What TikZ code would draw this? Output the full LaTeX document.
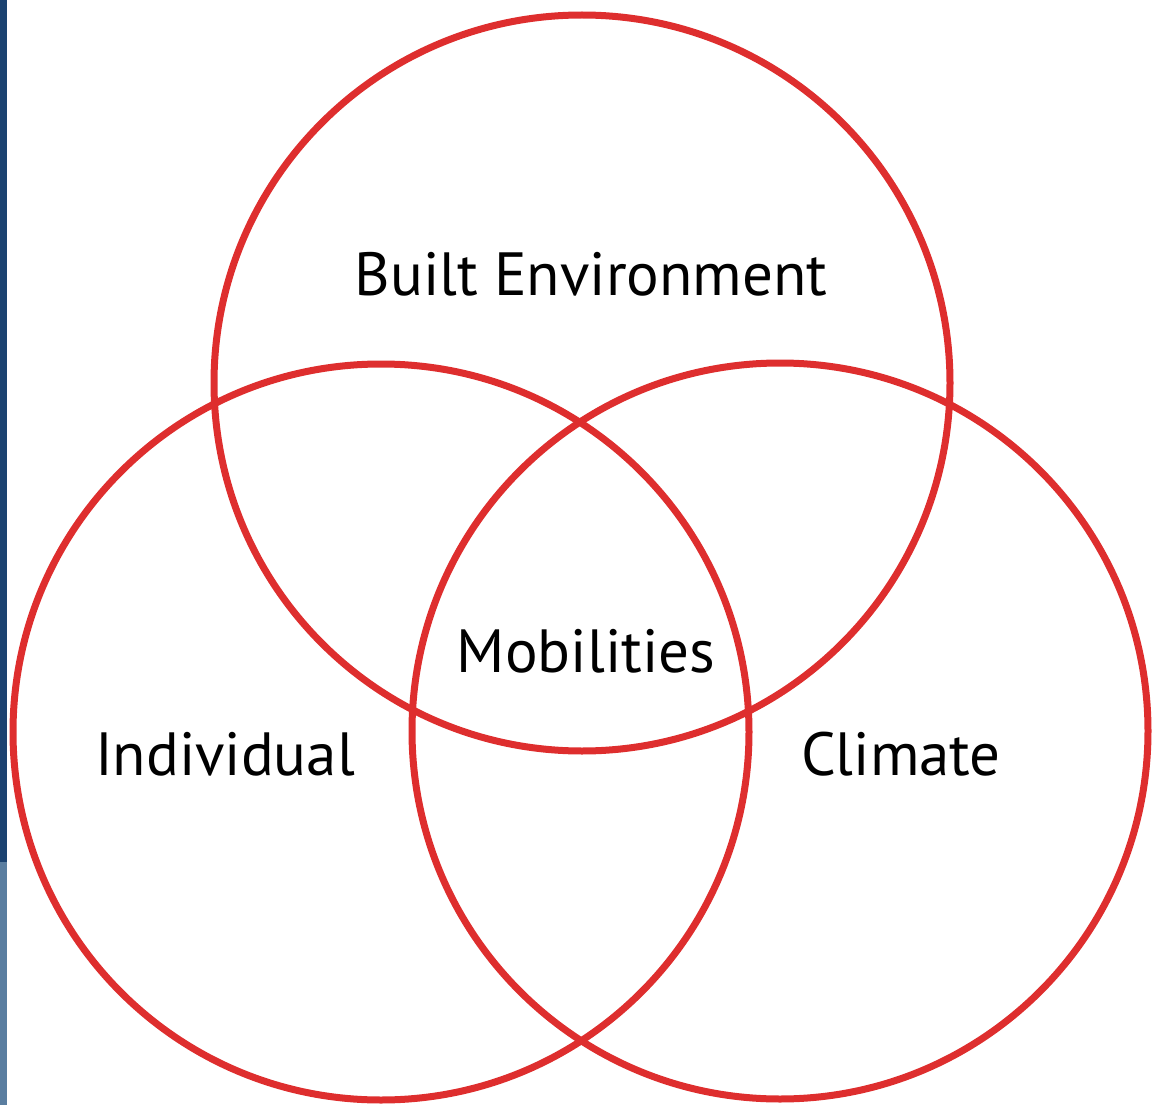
\documentclass[tikz,border=0pt]{standalone}
\usepackage{fontspec}
\setmainfont{PT Sans}
\usetikzlibrary{positioning}
\definecolor{VennRed}{RGB}{222,46,46}
\definecolor{BarDark}{RGB}{27,66,112}
\definecolor{BarLight}{RGB}{90,126,160}
\tikzset{
	set/.style={circle, draw=VennRed, line width=7pt, minimum size=736pt, inner sep=0pt},
	label/.style={font=\fontsize{61}{70}\selectfont, anchor=base, inner sep=0pt},
}

\begin{document}
\begin{tikzpicture}[x=1pt,y=-1pt]
		\useasboundingbox (0,0) rectangle (1152,1105);
		\fill [BarDark] (0,0) rectangle (7,862);
		\fill [BarLight] (0,862) rectangle (7,1105);
		\node (built) [set] at (582,383) {};
		\node (indiv) [set] at (381,732) {};
		\node (clim) [set] at (780,731) {};
		\node (tbuilt) [label] at (591,295) {Built Environment};
		\node (tmob) [label] at (586,672) {Mobilities};
		\node (tindiv) [label] at (225,775) {Individual};
		\node (tclim) [label] at (901,775) {Climate};
	\end{tikzpicture}
\end{document}
